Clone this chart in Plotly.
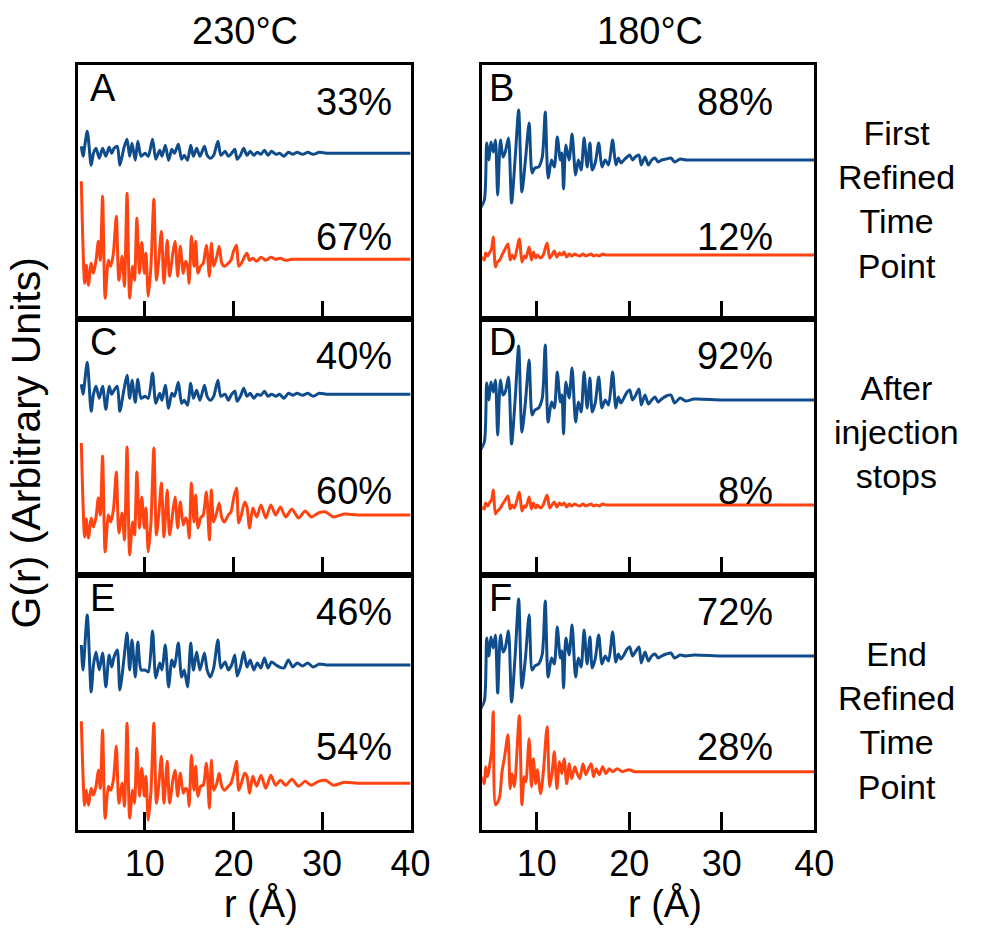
import plotly.graph_objects as go

# ---------------- data (r in Angstrom, G in arbitrary units) ----------------
# extrema positions of the two phases, left column (230 C) and right column (180 C)
LB_R = [2.83, 3.02, 3.5, 3.94, 4.2, 4.49, 4.86, 5.23, 5.6, 5.97,
        6.26, 6.52, 6.89, 7.18, 7.63, 7.99, 8.29, 8.55, 8.92, 9.21,
        9.58, 10.02, 10.39, 10.87, 11.24, 11.68, 11.94, 12.31, 12.68, 13.05,
        13.34, 13.78, 14.15, 14.45, 14.82, 15.18, 15.48, 15.85, 16.22, 16.73,
        17.03, 17.4, 17.77, 18.25, 18.58, 19.06, 19.43, 19.8, 20.16, 20.42,
        20.79, 21.16, 21.53, 21.9, 22.3, 22.7, 23.1, 23.5, 23.9, 24.3,
        24.8, 25.2, 25.7, 26.2, 26.7, 27.2, 27.8, 28.4, 29.0, 29.7,
        30.5, 31.5, 33, 35, 37.5, 40]
LO_R = [2.83, 3.2, 3.39, 3.64, 3.94, 4.2, 4.49, 4.75, 4.97, 5.23,
        5.52, 5.89, 6.15, 6.45, 6.78, 7.07, 7.44, 7.7, 7.99, 8.29,
        8.62, 8.84, 9.1, 9.4, 9.65, 9.95, 10.13, 10.39, 10.69, 11.02,
        11.31, 11.57, 11.87, 12.16, 12.53, 12.79, 13.16, 13.41, 13.71, 14.0,
        14.34, 14.6, 14.82, 15.0, 15.26, 15.55, 15.74, 16.0, 16.29, 16.59,
        16.95, 17.29, 17.51, 17.77, 18.13, 18.39, 18.69, 18.98, 19.42, 19.72,
        20.05, 20.35, 20.6, 20.9, 21.27, 21.53, 21.82, 22.19, 22.63, 23.11,
        23.66, 24.22, 24.77, 25.3, 25.9, 26.6, 27.35, 28.1, 28.8, 29.6,
        30.4, 31.3, 32.5, 34, 36, 38, 40]
RB_R = [3.8, 4.34, 4.59, 4.82, 5.05, 5.3, 5.54, 5.78, 6.08, 6.36,
        6.6, 6.95, 7.28, 7.68, 8.05, 8.4, 8.78, 9.18, 9.5, 9.8,
        10.2, 10.6, 10.92, 11.23, 11.6, 11.9, 12.22, 12.55, 12.72, 12.9,
        13.15, 13.5, 13.82, 14.2, 14.5, 14.8, 15.12, 15.45, 15.75, 16.0,
        16.32, 16.7, 17.05, 17.4, 17.76, 18.2, 18.55, 18.82, 19.1, 19.42,
        19.77, 20.05, 20.35, 20.65, 21.05, 21.3, 21.7, 22.07, 22.42, 22.78,
        23.13, 23.5, 24.0, 24.5, 24.9, 25.5, 26.1, 27, 30, 35,
        40]
RO_R = [4.0, 4.34, 4.48, 4.7, 4.94, 5.12, 5.3, 5.54, 5.75, 6.0,
        6.25, 6.53, 6.89, 7.13, 7.34, 7.59, 8.12, 8.4, 8.65, 8.83,
        9.18, 9.43, 9.64, 9.89, 10.06, 10.42, 10.7, 11.12, 11.4, 11.65,
        11.9, 12.18, 12.46, 12.71, 12.96, 13.24, 13.52, 13.77, 14.12, 14.3,
        14.65, 15.0, 15.3, 15.55, 15.89, 16.14, 16.42, 16.77, 17.13, 17.48,
        17.83, 18.2, 18.71, 19.25, 19.95, 20.6, 21.4, 22.5, 25, 30,
        35, 40]

A_BLUE = [7, -3, 22, -12, 0, 5, -5, 5, -3, 6,
          0, 5, 7, -12, 5, 14, -3, 10, -7, 12,
          -3, 0, -3, 14, -6, 3, -3, 8, -7, 4,
          0, 9, -6, -2, -7, 8, -3, 5, -3, 7,
          -2, -5, -2, 12, -2, 2, -3, 0, 4, -6,
          -2, 5, -2, 2, -2, 1, -1, 3, -2, 2,
          -1, 0, -3, 1, -1, 1, -1, 1, -1, 1,
          0, 0, 0, 0, 0, 0]
C_BLUE = [10, 0, 32, -17, 0, 8, -4, 8, -15, 8,
          0, 4, 8, -17, 4, 19, -4, 14, -8, 15,
          -4, -2, -4, 21, -9, 1, -6, 9, -14, 1,
          -2, 12, -9, -6, -11, 11, -4, 4, -6, 9,
          -2, -6, -2, 14, -2, 0, -6, 0, 3, -7,
          -2, 6, -2, 1, -4, 0, -1, 3, -2, 0,
          -2, 0, -4, 1, -1, 1, -1, 1, -2, 1,
          0, 0, 0, 0, 0, 0]
E_BLUE = [20, -5, 50, -27, 0, 13, -5, 12, -22, 10,
          -2, 8, 15, -25, 5, 32, -5, 25, -12, 23,
          -5, -5, -7, 34, -13, 2, -5, 20, -22, 5,
          -2, 22, -12, -5, -22, 22, -5, 13, -5, 12,
          -5, -12, -3, 25, -3, 3, -5, 0, 10, -11,
          -2, 13, -2, 5, -5, 2, -3, 7, -3, 3,
          0, -2, -3, 5, -2, 2, -1, 2, -2, 1,
          0, 0, 0, 0, 0, 0]
A_ORANGE = [78, -24, -6, -26, -4, -14, -1, 18, -1, 63,
            -39, -1, -7, 6, 43, -21, 3, -27, 66, -39,
            -7, -21, 41, -14, 17, -14, 6, -37, -7, 60,
            -21, -1, 28, -24, 19, -17, 6, 18, -17, 13,
            -14, -2, -7, -24, 23, -7, 18, -14, -7, -4,
            14, -17, 16, -7, 3, 13, -4, -7, -4, -1,
            9, 14, -7, -4, 3, 6, -1, 1, -2, 2,
            -1, 2, 0, 1, -1, 0, 0, 0, 0, 0,
            0, 0, 0, 0, 0, 0, 0]
C_ORANGE = [72, -22, -4, -23, -3, -12, -2, 17, 0, 59,
            -37, 0, -7, 5, 43, -18, 2, -25, 68, -40,
            -7, -20, 43, -13, 18, -13, 7, -37, -8, 67,
            -20, 0, 32, -22, 25, -20, 3, 18, -13, 13,
            -10, -3, -7, -23, 32, -7, 20, -13, -3, 0,
            23, -25, 25, -7, 3, 12, -3, -7, 0, 3,
            18, 27, -8, 0, 13, 8, -13, 7, -2, 10,
            -3, 10, 0, 8, -2, 6, -3, 4, -2, 2,
            3, -2, 1, 0, 0, 0, 0]
E_ORANGE = [62, -22, -7, -22, -5, -12, -3, 13, -5, 53,
            -35, -3, -7, 3, 37, -20, 0, -23, 60, -35,
            -7, -20, 35, -13, 15, -13, 7, -37, -8, 60,
            -20, -2, 27, -20, 22, -20, 3, 13, -13, 10,
            -10, -5, -7, -23, 28, -7, 17, -13, -3, -2,
            20, -25, 23, -7, 0, 10, -3, -7, -3, 0,
            10, 22, -7, 0, 10, 7, -10, 7, -3, 8,
            -5, 8, -2, 3, -2, 4, -3, 2, -2, 2,
            3, -2, 1, 0, 0, 0, 0]
B_BLUE = [-50, -40, 17, 0, 18, 8, 20, -35, 20, 3,
          8, 22, -43, 3, 50, -32, 0, 37, -13, -8,
          -7, 3, 48, -18, 0, -7, 23, 0, 7, -29,
          15, 0, 26, -15, 0, -10, 22, -7, 17, -10,
          -3, 17, -7, 0, -5, 20, -5, 2, -3, 0,
          3, 5, 0, 3, 5, -5, 3, -5, 0, 2,
          -2, 0, 1, 2, -2, 1, 0, 0, 0, 0,
          0]
D_BLUE = [-52, -42, 17, 0, 18, 8, 20, -35, 20, 5,
          8, 23, -44, 2, 54, -32, -2, 40, -15, -10,
          -8, 2, 55, -22, -2, -8, 28, -2, 5, -34,
          18, 2, 32, -22, -2, -12, 28, -8, 22, -12,
          -3, 23, -8, 0, -5, 28, -8, 3, -3, 2,
          8, 10, 0, 4, 11, -5, 5, -4, 0, 3,
          -2, 1, 4, 5, -3, 2, -1, 1, 0, 0,
          0]
F_BLUE = [-55, -45, 18, 0, 19, 8, 21, -37, 21, 4,
          8, 25, -46, 2, 57, -32, -2, 41, -14, -10,
          -8, 2, 55, -21, -2, -8, 29, -2, 5, -32,
          18, 1, 31, -21, -2, -11, 26, -8, 19, -12,
          -3, 21, -8, 0, -5, 24, -6, 2, -3, 1,
          7, 9, 0, 4, 9, -7, 4, -5, 0, 2,
          -2, 0, 2, 3, -2, 1, 0, 1, 0, 0,
          0]
B_ORANGE = [-2, -5, 2, -1, 3, 6, 18, -12, -7, -5,
            0, 5, 11, -5, 0, -4, 16, -7, -1, -3,
            8, -5, 3, -3, 0, -3, 0, 12, -3, 0,
            4, -2, 2, 0, 3, -2, 1, -1, 1, 0,
            -1, 1, -1, 0, 1, -1, 0, -1, 1, 0,
            0, 0, 0, 0, 0, 0, 0, 0, 0, 0,
            0, 0]
D_ORANGE = [-2, -4, 2, -1, 3, 5, 15, -9, -6, -4,
            0, 4, 9, -4, 0, -3, 13, -6, -1, -2,
            8, -4, 2, -3, 0, -3, 0, 10, -3, 0,
            3, -2, 2, 0, 2, -2, 1, -1, 1, 0,
            -1, 1, -1, 0, 1, -1, 0, -1, 1, 0,
            0, 0, 0, 0, 0, 0, 0, 0, 0, 0,
            0, 0]
F_ORANGE = [-5, -12, 5, -5, 8, 20, 60, -33, -31, -25,
            0, 15, 37, -17, -2, -15, 56, -33, -5, -10,
            33, -15, 13, -12, 2, -22, -2, 45, -15, -2,
            20, -17, 10, -2, 13, -12, 8, -7, 5, 0,
            -7, 8, -3, 2, 8, -5, 3, -3, 5, -2,
            3, 0, 3, 0, 2, 0, 0, 0, 0, 0,
            0, 0]

# phase fractions shown in each panel
PANEL_LABELS = ["A", "B", "C", "D", "E", "F"]
BLUE_PCT = ["33%", "88%", "40%", "92%", "46%", "72%"]
ORANGE_PCT = ["67%", "12%", "60%", "8%", "54%", "28%"]
COL_TITLES = ["230°C", "180°C"]
ROW_LABELS = ["First<br>Refined<br>Time<br>Point", "After<br>injection<br>stops",
              "End<br>Refined<br>Time<br>Point"]
TICKS = [10, 20, 30, 40]

# stacking offsets (vertical shift of each curve inside its panel)
BLUE_OFFSET = [165.7, 159, 180.7, 175, 165, 174]
ORANGE_OFFSET = [59.7, 64, 60, 70, 46.7, 58.3]

# ---------------- layout ----------------
W, H = 997, 930
BLUE = "#0f4c8c"
ORANGE = "#ff4411"
FONT = "Arial, 'Liberation Sans', sans-serif"

COL_X = [(80, 419), (492, 831)]
ROW_Y = [(65, 319), (319, 575), (575, 830)]
XMIN = [2.5, 4.1]

blue_sets = [(LB_R, A_BLUE), (RB_R, B_BLUE), (LB_R, C_BLUE),
             (RB_R, D_BLUE), (LB_R, E_BLUE), (RB_R, F_BLUE)]
orange_sets = [(LO_R, A_ORANGE), (RO_R, B_ORANGE), (LO_R, C_ORANGE),
               (RO_R, D_ORANGE), (LO_R, E_ORANGE), (RO_R, F_ORANGE)]
for r, g in blue_sets + orange_sets:
    assert len(r) == len(g), (len(r), len(g))

fig = go.Figure()
annotations = []
layout = {}


def txt(x, y, text, size, xanchor="center", **kw):
    return dict(x=x / W, y=1 - y / H, xref="paper", yref="paper", text=text,
                showarrow=False, xanchor=xanchor, yanchor="middle",
                font=dict(size=size, color="black", family=FONT), **kw)


for i in range(6):
    row, col = divmod(i, 2)
    n = i + 1
    xa = "x" if n == 1 else f"x{n}"
    ya = "y" if n == 1 else f"y{n}"
    x0, x1 = COL_X[col]
    yt, yb = ROW_Y[row]
    ph = yb - yt
    for (r, g), off, color in ((orange_sets[i], ORANGE_OFFSET[i], ORANGE),
                               (blue_sets[i], BLUE_OFFSET[i], BLUE)):
        fig.add_trace(go.Scatter(
            x=r, y=[off + v for v in g], mode="lines",
            line=dict(color=color, width=3, shape="spline", smoothing=0.7),
            xaxis=xa, yaxis=ya, showlegend=False, hoverinfo="skip"))
    layout[f"xaxis{'' if n == 1 else n}"] = dict(
        domain=[x0 / W, x1 / W], range=[XMIN[col], 40], anchor=ya,
        tickvals=TICKS, ticks="inside", ticklen=18, tickwidth=3, tickcolor="black",
        showticklabels=(row == 2), tickfont=dict(size=36, color="black", family=FONT),
        showline=True, mirror=True, linecolor="black", linewidth=3,
        showgrid=False, zeroline=False, fixedrange=True)
    layout[f"yaxis{'' if n == 1 else n}"] = dict(
        domain=[1 - yb / H, 1 - yt / H], range=[0, ph], anchor=xa,
        showticklabels=False, ticks="", showline=True, mirror=True,
        linecolor="black", linewidth=3, showgrid=False, zeroline=False,
        fixedrange=True)

    lx = [90, 497][col]
    annotations.append(txt(lx, yt + 23, PANEL_LABELS[i], 38, xanchor="left"))
    px = [402, 791][col]
    annotations.append(txt(px, yt + 37, BLUE_PCT[i], 38, xanchor="right"))
    annotations.append(txt(px, yt + 172, ORANGE_PCT[i], 38, xanchor="right"))

for col, t in enumerate(COL_TITLES):
    annotations.append(txt([250, 663][col], 31, t, 38))
    annotations.append(txt([266, 679][col], 903, "r (Å)", 38))

for k, t in enumerate(ROW_LABELS):
    annotations.append(txt(915, [199, 432, 720][k], t, 34, align="center"))

annotations.append(txt(27, 443, "G(r) (Arbitrary Units)", 41, textangle=-90))

fig.update_layout(
    width=W, height=H, autosize=False, margin=dict(l=0, r=0, t=0, b=0, pad=0),
    paper_bgcolor="white", plot_bgcolor="white",
    font=dict(family=FONT, color="black"),
    annotations=annotations, **layout)

fig.write_html("out.html", config={"displayModeBar": False, "responsive": False})
